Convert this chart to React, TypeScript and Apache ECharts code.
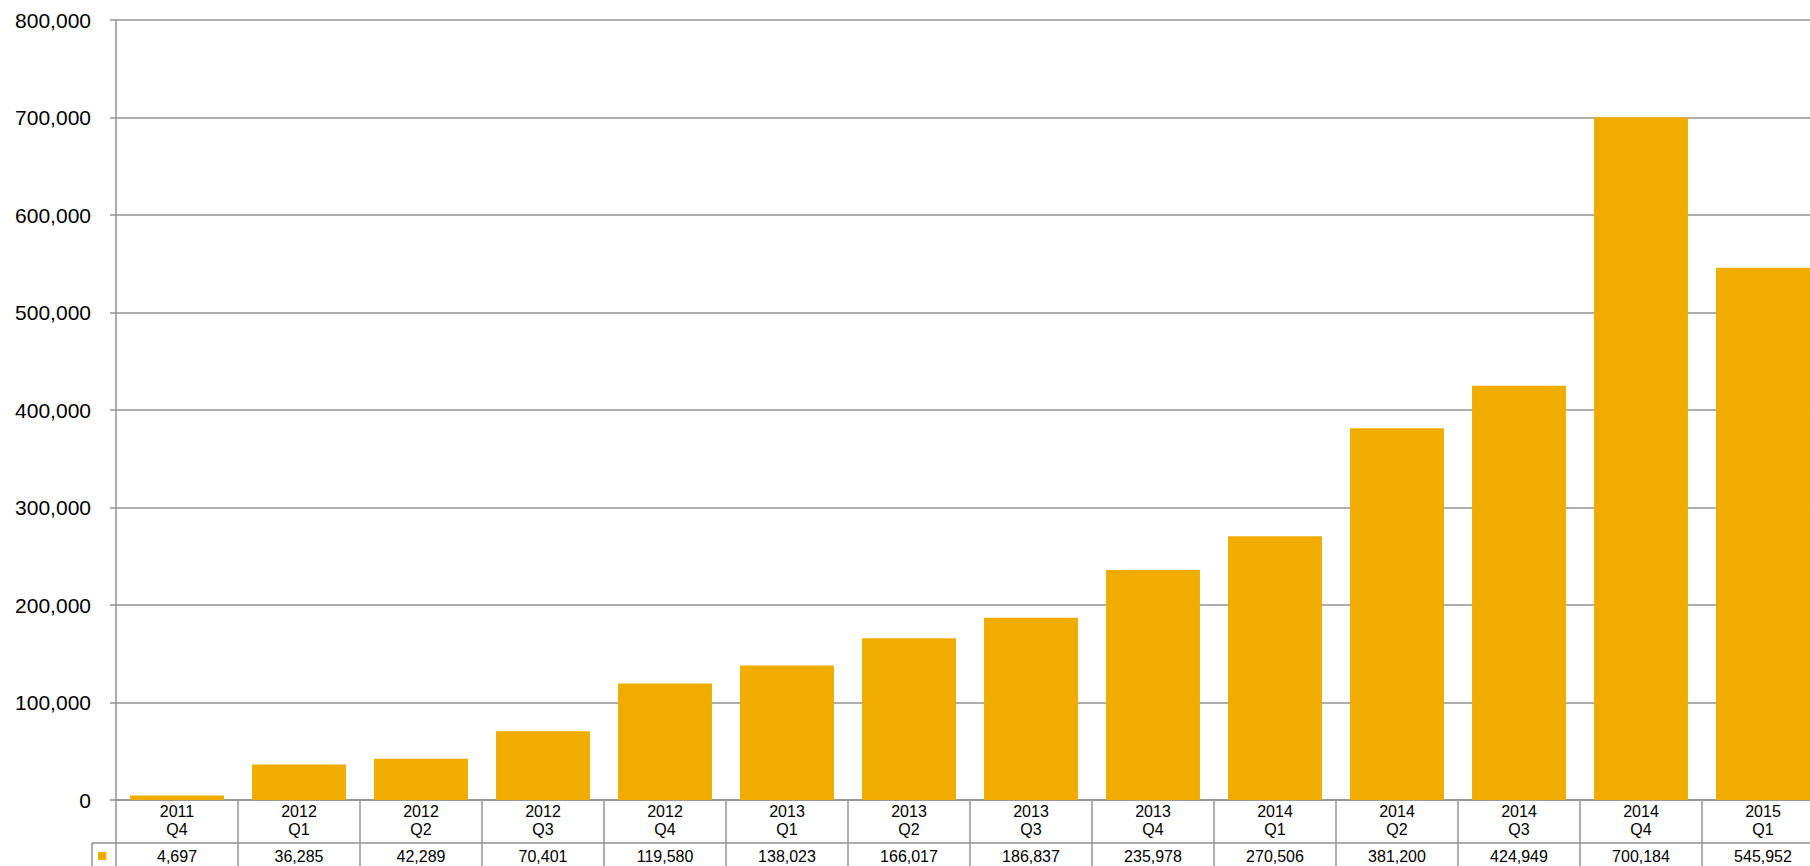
import React, { useEffect, useRef } from "react";
import * as echarts from "echarts";

// Quarterly totals
const quarters = [
  "2011\nQ4", "2012\nQ1", "2012\nQ2", "2012\nQ3", "2012\nQ4",
  "2013\nQ1", "2013\nQ2", "2013\nQ3", "2013\nQ4",
  "2014\nQ1", "2014\nQ2", "2014\nQ3", "2014\nQ4", "2015\nQ1",
];
const values = [
  4697, 36285, 42289, 70401, 119580, 138023, 166017, 186837, 235978,
  270506, 381200, 424949, 700184, 545952,
];
const yTicks = { min: 0, max: 800000, interval: 100000 };

const FONT = "'Liberation Sans', Arial, sans-serif";
const GRID_GRAY = "#939393";
const BAR_COLOR = "#F0AC00";

const fmt = (v: number) => v.toLocaleString("en-US");

export default function App() {
  const ref = useRef<HTMLDivElement>(null);

  useEffect(() => {
    if (!ref.current) return;
    const chart = echarts.init(ref.current, undefined, { renderer: "svg" });
    chart.setOption({
      animation: false,
      backgroundColor: "#ffffff",
      textStyle: { fontFamily: FONT },
      grid: { left: 116, top: 20, right: 6, bottom: 66, containLabel: false },
      xAxis: [
        {
          type: "category",
          data: quarters,
          position: "bottom",
          axisLine: { show: true, lineStyle: { color: GRID_GRAY, width: 1.5 } },
          axisTick: {
            show: true,
            alignWithLabel: false,
            inside: false,
            length: 70,
            lineStyle: { color: GRID_GRAY, width: 1.5 },
          },
          axisLabel: {
            color: "#000",
            fontSize: 16,
            fontFamily: FONT,
            lineHeight: 18,
            margin: 2,
            interval: 0,
          },
        },
        {
          type: "category",
          data: values.map(fmt),
          position: "bottom",
          offset: 43,
          axisLine: { show: true, lineStyle: { color: GRID_GRAY, width: 1.5 } },
          axisTick: { show: false },
          axisLabel: {
            color: "#000",
            fontSize: 16,
            fontFamily: FONT,
            lineHeight: 18,
            margin: 4,
            interval: 0,
          },
        },
      ],
      yAxis: {
        type: "value",
        min: yTicks.min,
        max: yTicks.max,
        interval: yTicks.interval,
        axisLine: { show: true, lineStyle: { color: GRID_GRAY, width: 1.5 } },
        axisTick: { show: true, length: 6, lineStyle: { color: GRID_GRAY, width: 1.5 } },
        splitLine: { show: true, lineStyle: { color: GRID_GRAY, width: 1.5 } },
        axisLabel: {
          color: "#000",
          fontSize: 21,
          fontFamily: FONT,
          margin: 25,
          formatter: (v: number) => fmt(v),
        },
      },
      series: [
        {
          type: "bar",
          data: values,
          barWidth: "77%",
          itemStyle: { color: BAR_COLOR },
          silent: true,
        },
      ],
      graphic: [
        {
          type: "line",
          shape: { x1: 92, y1: 843, x2: 116, y2: 843 },
          style: { stroke: GRID_GRAY, lineWidth: 1.5 },
        },
        {
          type: "line",
          shape: { x1: 92, y1: 843, x2: 92, y2: 870 },
          style: { stroke: GRID_GRAY, lineWidth: 1.5 },
        },
        {
          type: "rect",
          shape: { x: 98, y: 852, width: 8.5, height: 8 },
          style: { fill: BAR_COLOR },
        },
      ],
    });
    return () => chart.dispose();
  }, []);

  return (
    <div
      style={{
        position: "absolute",
        left: 0,
        top: 0,
        width: 1810,
        height: 866,
        overflow: "hidden",
        background: "#fff",
      }}
    >
      <div ref={ref} style={{ width: 1830, height: 866 }} />
    </div>
  );
}
